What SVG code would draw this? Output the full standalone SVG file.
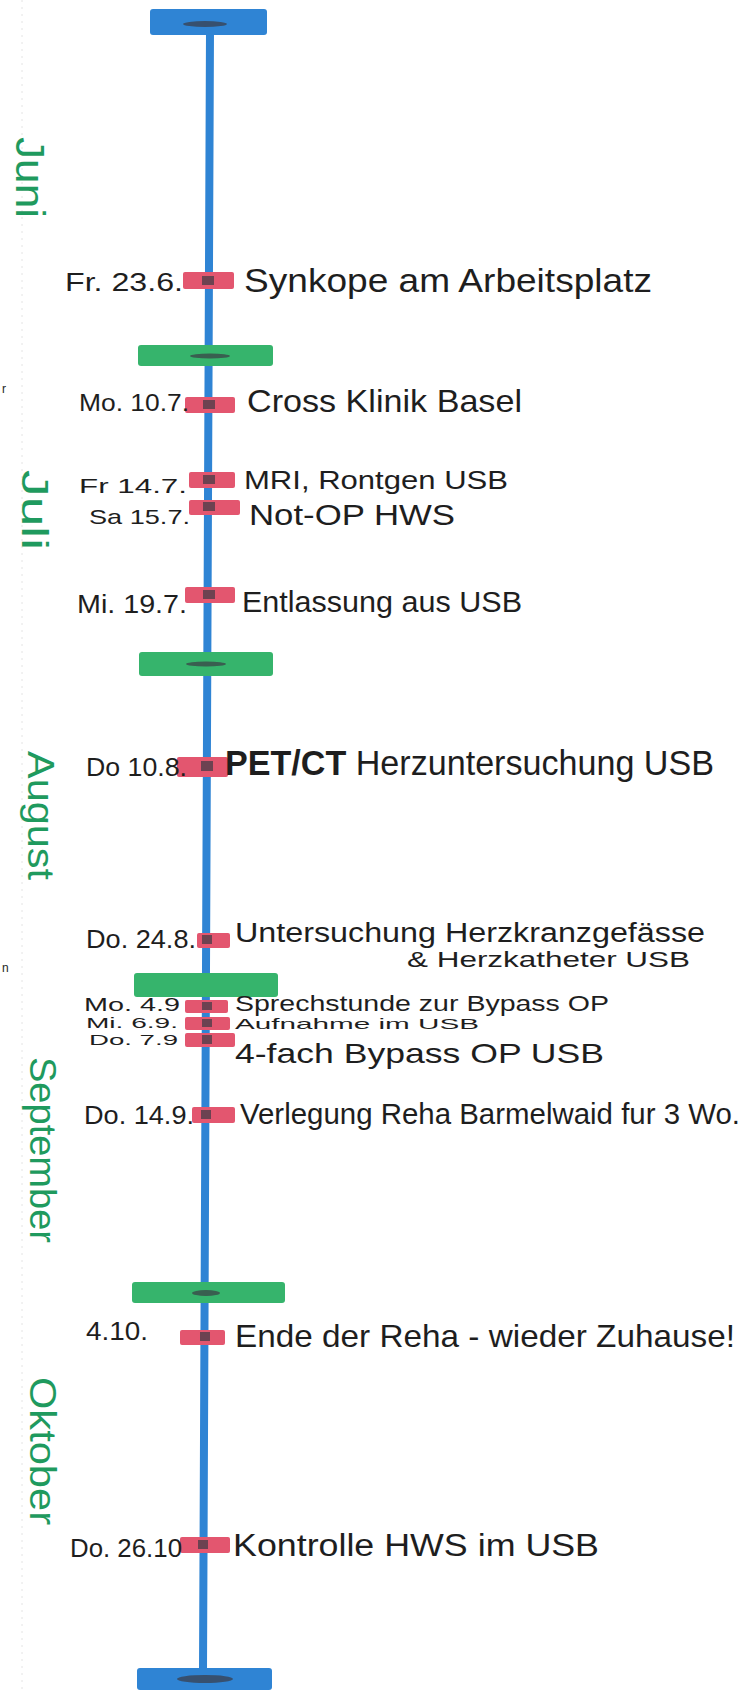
<svg xmlns="http://www.w3.org/2000/svg" width="748" height="1691" viewBox="0 0 748 1691">
<style>
.ink{font-family:"Liberation Sans","DejaVu Sans",sans-serif;fill:#1e1e1e;}
.month{font-family:"Liberation Sans","DejaVu Sans",sans-serif;fill:#1f9a5e;}
.red{fill:#e3566f;}
.green{fill:#36b46c;}
.blue{fill:#2f84d4;}
.smudge{fill:#3a3a44;opacity:0.7;}
</style>
<rect width="748" height="1691" fill="#ffffff"/>
<line x1="22" y1="0" x2="22" y2="1691" stroke="#e4e4e4" stroke-width="1" stroke-dasharray="2 5"/>
<text class="ink" x="2" y="393" font-size="12">r</text>
<text class="ink" x="2" y="972" font-size="12">n</text>

<g id="connectors">
<line x1="210" y1="30" x2="203" y2="1672" stroke="#2f84d4" stroke-width="8" stroke-linecap="round"/>
</g>

<g id="start-bar"><rect class="blue" x="150" y="9" width="117" height="26" rx="3"/><ellipse class="smudge" cx="205" cy="24" rx="22" ry="3"/></g>
<g id="end-bar"><rect class="blue" x="137" y="1668" width="135" height="22" rx="3"/><ellipse class="smudge" cx="205" cy="1679" rx="28" ry="4"/></g>

<g id="sep-jun-jul"><rect class="green" x="138" y="345" width="135" height="21" rx="3"/><ellipse class="smudge" cx="210" cy="356" rx="20" ry="2.5"/></g>
<g id="sep-jul-aug"><rect class="green" x="139" y="652" width="134" height="24" rx="3"/><ellipse class="smudge" cx="206" cy="664" rx="20" ry="2.5"/></g>
<g id="sep-aug-sep"><rect class="green" x="134" y="973" width="144" height="24" rx="3"/></g>
<g id="sep-sep-oct"><rect class="green" x="132" y="1282" width="153" height="21" rx="3"/><ellipse class="smudge" cx="206" cy="1293" rx="14" ry="3"/></g>

<g id="month-juni"><text class="month" transform="translate(16,137) rotate(90)" font-size="40" textLength="81" lengthAdjust="spacingAndGlyphs">Juni</text></g>
<g id="month-juli"><text class="month" transform="translate(22,470) rotate(90)" font-size="36" textLength="80" lengthAdjust="spacingAndGlyphs">Juli</text></g>
<g id="month-august"><text class="month" transform="translate(28,751) rotate(90)" font-size="36" textLength="129" lengthAdjust="spacingAndGlyphs">August</text></g>
<g id="month-september"><text class="month" transform="translate(30,1057) rotate(90)" font-size="36" textLength="186" lengthAdjust="spacingAndGlyphs">September</text></g>
<g id="month-oktober"><text class="month" transform="translate(30,1377) rotate(90)" font-size="36" textLength="148" lengthAdjust="spacingAndGlyphs">Oktober</text></g>

<g id="e1"><rect class="red" x="183" y="272" width="51" height="17" rx="2"/><rect class="smudge" x="202" y="276" width="12" height="9"/>
<text class="ink" x="65" y="291" font-size="26" textLength="118" lengthAdjust="spacingAndGlyphs">Fr. 23.6.</text>
<text class="ink" x="244" y="292" font-size="34" textLength="408" lengthAdjust="spacingAndGlyphs">Synkope am Arbeitsplatz</text></g>

<g id="e2"><rect class="red" x="185" y="397" width="50" height="16" rx="2"/><rect class="smudge" x="203" y="400" width="12" height="9"/>
<text class="ink" x="79" y="411" font-size="24" textLength="110" lengthAdjust="spacingAndGlyphs">Mo. 10.7.</text>
<text class="ink" x="247" y="412" font-size="32" textLength="275" lengthAdjust="spacingAndGlyphs">Cross Klinik Basel</text></g>

<g id="e3"><rect class="red" x="189" y="472" width="46" height="16" rx="2"/><rect class="smudge" x="203" y="475" width="12" height="9"/>
<text class="ink" x="79" y="493" font-size="21" textLength="108" lengthAdjust="spacingAndGlyphs">Fr 14.7.</text>
<text class="ink" x="244" y="489" font-size="26" textLength="264" lengthAdjust="spacingAndGlyphs">MRI, Rontgen USB</text></g>

<g id="e4"><rect class="red" x="189" y="500" width="51" height="15" rx="2"/><rect class="smudge" x="203" y="502" width="12" height="9"/>
<text class="ink" x="89" y="524" font-size="21" textLength="101" lengthAdjust="spacingAndGlyphs">Sa 15.7.</text>
<text class="ink" x="249" y="525" font-size="29" textLength="206" lengthAdjust="spacingAndGlyphs">Not-OP HWS</text></g>

<g id="e5"><rect class="red" x="185" y="587" width="50" height="16" rx="2"/><rect class="smudge" x="203" y="590" width="12" height="9"/>
<text class="ink" x="77" y="613" font-size="26" textLength="110" lengthAdjust="spacingAndGlyphs">Mi. 19.7.</text>
<text class="ink" x="242" y="612" font-size="29" textLength="280" lengthAdjust="spacingAndGlyphs">Entlassung aus USB</text></g>

<g id="e6"><rect class="red" x="177" y="757" width="51" height="20" rx="2"/><rect class="smudge" x="201" y="761" width="12" height="10"/>
<text class="ink" x="86" y="776" font-size="26" textLength="101" lengthAdjust="spacingAndGlyphs">Do 10.8.</text>
<text class="ink" x="225" y="775" font-size="35" textLength="489" lengthAdjust="spacingAndGlyphs"><tspan font-weight="bold">PET/CT</tspan> Herzuntersuchung USB</text></g>

<g id="e7"><rect class="red" x="197" y="933" width="33" height="15" rx="2"/><rect class="smudge" x="202" y="935" width="10" height="9"/>
<text class="ink" x="86" y="948" font-size="26" textLength="110" lengthAdjust="spacingAndGlyphs">Do. 24.8.</text>
<text class="ink" x="235" y="942" font-size="27" textLength="470" lengthAdjust="spacingAndGlyphs">Untersuchung Herzkranzgefässe</text>
<text class="ink" x="407" y="967" font-size="22" textLength="283" lengthAdjust="spacingAndGlyphs">&amp; Herzkatheter USB</text></g>

<g id="e8"><rect class="red" x="185" y="1000" width="43" height="13" rx="2"/><rect class="smudge" x="202" y="1002" width="10" height="8"/>
<text class="ink" x="84" y="1011" font-size="18" textLength="96" lengthAdjust="spacingAndGlyphs">Mo. 4.9</text>
<text class="ink" x="235" y="1011" font-size="22" textLength="374" lengthAdjust="spacingAndGlyphs">Sprechstunde zur Bypass OP</text></g>

<g id="e9"><rect class="red" x="185" y="1017" width="45" height="13" rx="2"/><rect class="smudge" x="202" y="1019" width="10" height="8"/>
<text class="ink" x="86" y="1028" font-size="15" textLength="92" lengthAdjust="spacingAndGlyphs">Mi. 6.9.</text>
<text class="ink" x="235" y="1029" font-size="15" textLength="244" lengthAdjust="spacingAndGlyphs">Aufnahme im USB</text></g>

<g id="e10"><rect class="red" x="185" y="1033" width="50" height="14" rx="2"/><rect class="smudge" x="202" y="1035" width="10" height="9"/>
<text class="ink" x="89" y="1045" font-size="15" textLength="89" lengthAdjust="spacingAndGlyphs">Do. 7.9</text>
<text class="ink" x="235" y="1063" font-size="28" textLength="369" lengthAdjust="spacingAndGlyphs">4-fach Bypass OP USB</text></g>

<g id="e11"><rect class="red" x="192" y="1107" width="43" height="16" rx="2"/><rect class="smudge" x="201" y="1110" width="10" height="9"/>
<text class="ink" x="84" y="1124" font-size="26" textLength="110" lengthAdjust="spacingAndGlyphs">Do. 14.9.</text>
<text class="ink" x="240" y="1124" font-size="29" textLength="500" lengthAdjust="spacingAndGlyphs">Verlegung Reha Barmelwaid fur 3 Wo.</text></g>

<g id="e12"><rect class="red" x="180" y="1330" width="45" height="15" rx="2"/><rect class="smudge" x="200" y="1332" width="10" height="9"/>
<text class="ink" x="86" y="1340" font-size="26" textLength="62" lengthAdjust="spacingAndGlyphs">4.10.</text>
<text class="ink" x="235" y="1347" font-size="32" textLength="500" lengthAdjust="spacingAndGlyphs">Ende der Reha - wieder Zuhause!</text></g>

<g id="e13"><rect class="red" x="180" y="1537" width="50" height="16" rx="2"/><rect class="smudge" x="198" y="1540" width="10" height="9"/>
<text class="ink" x="70" y="1557" font-size="26" textLength="112" lengthAdjust="spacingAndGlyphs">Do. 26.10</text>
<text class="ink" x="233" y="1556" font-size="31" textLength="366" lengthAdjust="spacingAndGlyphs">Kontrolle HWS im USB</text></g>
</svg>
